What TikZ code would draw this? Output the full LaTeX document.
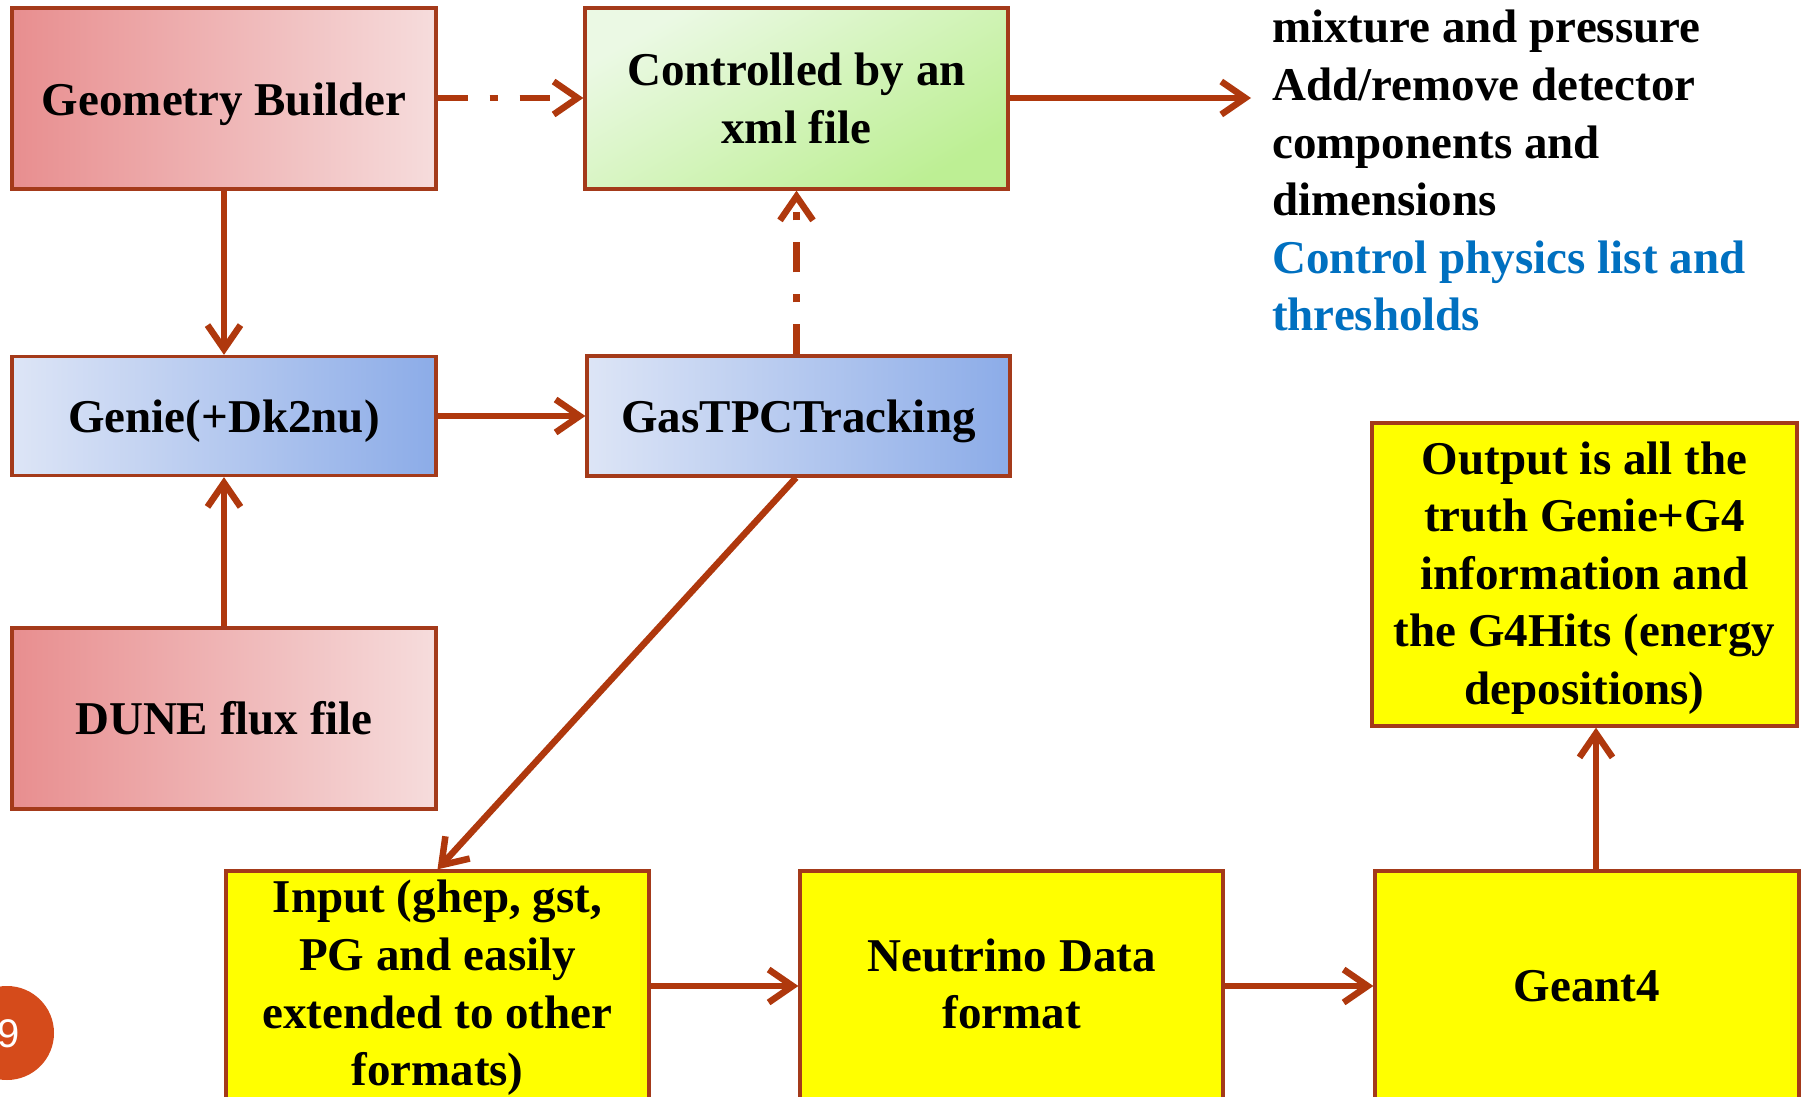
\documentclass[tikz,border=0pt]{standalone}
\usepackage{fontspec}
\setmainfont{Liberation Serif}
\newfontfamily\numfont{Liberation Sans}
\usetikzlibrary{arrows.meta}
\definecolor{bordc}{HTML}{A43A1A}
\definecolor{arrc}{HTML}{AF380D}
\definecolor{pinkL}{HTML}{E88E8F}
\definecolor{pinkR}{HTML}{F6DCDC}
\definecolor{greenA}{HTML}{EBF9E4}
\definecolor{greenB}{HTML}{BDEF94}
\definecolor{blueL}{HTML}{DDE5F6}
\definecolor{blueR}{HTML}{8CACE8}
\definecolor{yel}{HTML}{FFFF00}
\definecolor{bluetxt}{HTML}{0070C0}
\definecolor{circc}{HTML}{D54B1B}
\tikzset{
  txtfont/.style={font=\fontsize{47}{57.6}\selectfont\bfseries},
  box/.style={draw=bordc, line width=3.3pt, align=center, inner sep=4pt, txtfont},
  pinkbox/.style={box, left color=pinkL, right color=pinkR},
  greenbox/.style={box, top color=greenA, bottom color=greenB, shading angle=30},
  bluebox/.style={box, left color=blueL, right color=blueR},
  yelbox/.style={box, fill=yel},
  label/.style={txtfont, align=center},
  arr/.style={draw=arrc, line width=6.5pt, -{Straight Barb[length=24pt,width=33pt]}},
  dasharr/.style={arr, dash pattern=on 30pt off 22pt on 8pt off 22pt},
}
\begin{document}
\begin{tikzpicture}[x=1pt,y=-1pt]
\useasboundingbox (0,0) rectangle (1808,1097);
\fill[white] (0,0) rectangle (1808,1097);
\begin{scope}
\clip (0,0) rectangle (1808,1097);
% boxes
\node[pinkbox, minimum width=424pt, minimum height=181pt] (gb) at (224,98.5) {};
\node[label] (gbtxt) at (224,104) {Geometry Builder};
\node[greenbox, minimum width=423pt, minimum height=181pt] (ctrl) at (796.5,98.5) {Controlled by an\\xml file};
\node[bluebox, minimum width=424pt, minimum height=119pt] (genie) at (224,416) {};
\node[label] (genietxt) at (224,421) {Genie(+Dk2nu)};
\node[bluebox, minimum width=423pt, minimum height=120pt] (gas) at (798.5,416) {};
\node[label] (gastxt) at (798.5,421) {GasTPCTracking};
\node[pinkbox, minimum width=424pt, minimum height=181pt] (dune) at (224,718.5) {DUNE flux file};
\node[yelbox, minimum width=423pt, minimum height=240pt] (inp) at (437.5,991) {};
\node[label] (inptxt) at (437.5,988) {Input (ghep, gst,\\PG and easily\\extended to other\\formats)};
\node[yelbox, minimum width=423pt, minimum height=240pt] (ndf) at (1011.5,991) {};
\node[label] (ndftxt) at (1011.5,984) {Neutrino Data\\format};
\node[yelbox, minimum width=424pt, minimum height=240pt] (g4) at (1587,991) {};
\node[label] (g4txt) at (1587,986) {Geant4};
\node[yelbox, minimum width=425pt, minimum height=303pt] (out) at (1584.5,574.5) {};
\node[label] (outtxt) at (1584.5,578) {Output is all the\\truth Genie+G4\\information and\\the G4Hits (energy\\depositions)};
% right-hand text
\node[anchor=north west, inner sep=0pt, align=left, txtfont] (txt) at (1272,10)
  {mixture and pressure\\Add/remove detector\\components and\\dimensions\\\textcolor{bluetxt}{Control physics list and}\\\textcolor{bluetxt}{thresholds}};
\coordinate (txtin) at (1251,98);
% slide number
\fill[circc] (7,1033) circle (47pt);
\node[text=white, font=\fontsize{40}{48}\selectfont\numfont] (num) at (9,1034) {9};
% connectors
\draw[dasharr] (gb.east |- 0,98) -- (ctrl.west |- 0,98);
\draw[arr] (ctrl.east |- 0,98) -- (txtin);
\draw[arr] (gb.south) -- (genie.north);
\draw[arr] (dune.north) -- (genie.south);
\draw[arr] (genie.east) -- (gas.west);
\draw[dasharr] (gas.north -| ctrl.south) -- (ctrl.south);
\draw[arr] (gas.south -| 796,0) -- (inp.north);
\draw[arr] (inp.east |- 0,986) -- (ndf.west |- 0,986);
\draw[arr] (ndf.east |- 0,986) -- (g4.west |- 0,986);
\draw[arr] (g4.north -| 1596,0) -- (out.south -| 1596,0);
\end{scope}
\end{tikzpicture}
\end{document}
